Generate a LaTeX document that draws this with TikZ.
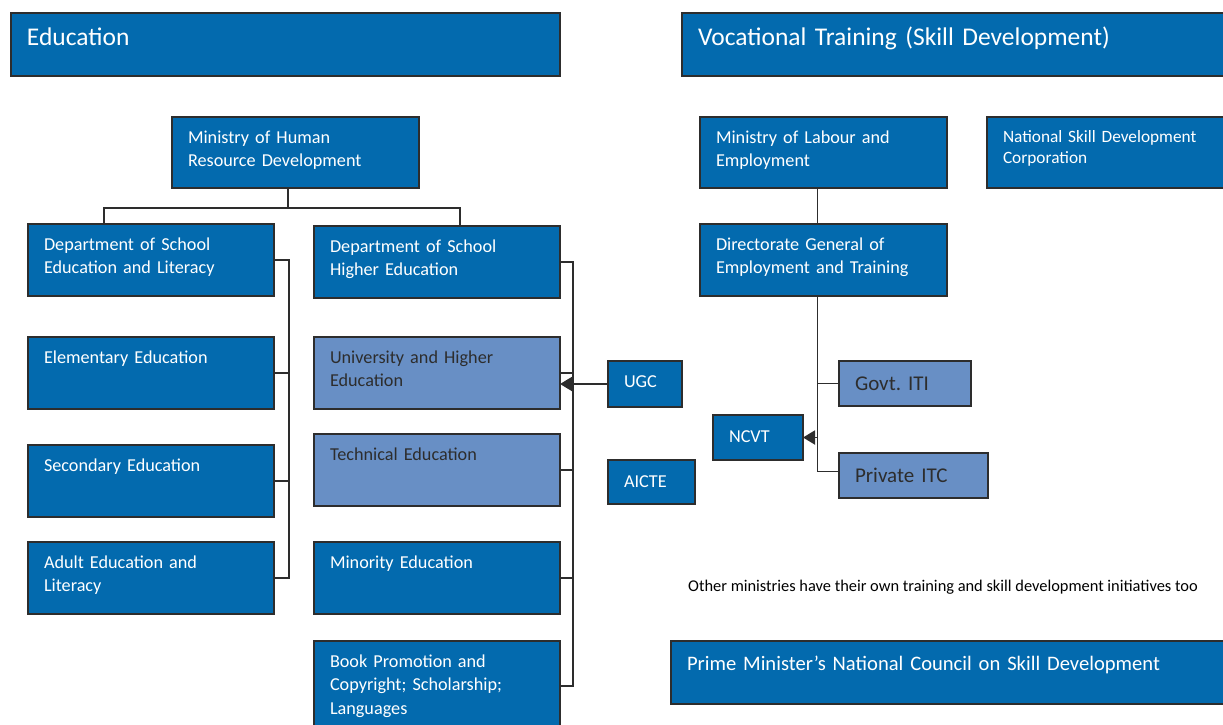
\documentclass[tikz,border=0pt]{standalone}
\usepackage{fontspec}
\setmainfont{Carlito}
\usepackage{xcolor}
\usepackage{tikz}
\usetikzlibrary{calc,arrows.meta,positioning}

\definecolor{deep}{RGB}{3,106,174}
\definecolor{pale}{RGB}{104,143,197}
\definecolor{edge}{RGB}{45,45,45}

\tikzset{
	unit/.style={draw=edge, line width=1.6pt, fill=deep, text=white, anchor=north west, align=left,
		outer sep=0pt, inner xsep=16pt, inner ysep=0pt, text height=26pt, text depth=46pt, text width=214pt,
		font=\fontsize{18.2}{23.5}\selectfont},
	lightunit/.style={unit, fill=pale, text=edge},
	header/.style={unit, font=\fontsize{25.5}{30}\selectfont, text height=33pt, text depth=30pt},
	link/.style={draw=edge, line width=1.9pt},
	tip/.style={-{Triangle[length=12pt,width=14pt]}}
}

\begin{document}
\frenchspacing
\begin{tikzpicture}[x=1pt,y=-1pt]
\useasboundingbox (0,0) rectangle (1223,725);

% headers
\node[header, text width=517pt] (edu) at (11,13) {Education};
\node[header, text width=513pt] (voc) at (682,13) {Vocational Training (Skill Development)};

% education side
\node[unit, text width=215pt, text depth=45pt] (mhrd) at (172,117) {Ministry of Human\\Resource Development};
\node[unit] (dsel) at (28,224) {Department of School\\Education and Literacy};
\node[unit] (dshe) at (314,226) {Department of School\\Higher Education};
\node[unit] (elem) at (28,337) {Elementary Education};
\node[unit] (sec) at (28,445) {Secondary Education};
\node[unit] (adult) at (28,542) {Adult Education and\\Literacy};
\node[lightunit] (univ) at (314,337) {University and Higher\\Education};
\node[lightunit] (tech) at (314,434) {Technical Education};
\node[unit] (minor) at (314,542) {Minority Education};
\node[unit, text depth=64pt] (book) at (314,641) {Book Promotion and\\Copyright; Scholarship;\\Languages};
\node[unit, text width=42pt, text depth=20pt] (ugc) at (608,361) {UGC};
\node[unit, text width=55pt, text height=27pt, text depth=17pt] (aicte) at (608,460) {AICTE};

% vocational side
\node[unit, text width=215pt, text depth=45pt] (mole) at (700,117) {Ministry of Labour and\\Employment};
\node[unit, text width=218pt, text height=25pt, text depth=46pt, font=\fontsize{17.3}{21}\selectfont] (nsdc) at (987,117) {National Skill Development\\Corporation};
\node[unit, text width=215pt] (dget) at (700,224) {Directorate General of\\Employment and Training};
\node[lightunit, text width=100pt, text height=29pt, text depth=16pt, font=\fontsize{21}{25}\selectfont] (iti) at (839,361) {Govt. ITI};
\node[lightunit, text width=117pt, text height=29pt, text depth=16pt, font=\fontsize{21}{25}\selectfont] (itc) at (839,453) {Private ITC};
\node[unit, text width=58pt, text height=27pt, text depth=18pt] (ncvt) at (713,415) {NCVT};
\node[anchor=west, inner sep=0pt, font=\fontsize{16.4}{19}\selectfont] (note) at (688,587) {Other ministries have their own training and skill development initiatives too};
\node[unit, text width=528pt, text height=29pt, text depth=34pt, font=\fontsize{20.6}{25}\selectfont] (pm) at (671,641) {Prime Minister’s National Council on Skill Development};

% tree below the ministry
\coordinate (fork) at (288,208);
\draw[link] (mhrd.south -| fork) -- (fork);
\draw[link] (fork) -| ([xshift=76pt]dsel.north west);
\draw[link] (fork) -| ([xshift=146pt]dshe.north west);

% left bracket
\draw[link] (dsel.east) -- ++(15,0) |- (adult.east);
\draw[link] (elem.east) -- ++(15,0);
\draw[link] (sec.east) -- ++(15,0);

% right bracket
\draw[link] (dshe.east) -- ++(13,0) |- (book.east);
\draw[link] (univ.east) -- ++(13,0);
\draw[link] (tech.east) -- ++(13,0);
\draw[link] (minor.east) -- ++(13,0);
\draw[link, tip] (ugc.west) -- (univ.east |- ugc.west);

% labour ministry
\coordinate (vbus) at ([xshift=-6pt]dget.south);
\draw[link] (mole.south -| vbus) -- (dget.north -| vbus);
\draw[link] (vbus) |- ([yshift=4pt]itc.west);
\draw[link] (iti.west) -| (vbus);
\draw[link, tip] (ncvt.east -| vbus) -- (ncvt.east);

\end{tikzpicture}
\end{document}
